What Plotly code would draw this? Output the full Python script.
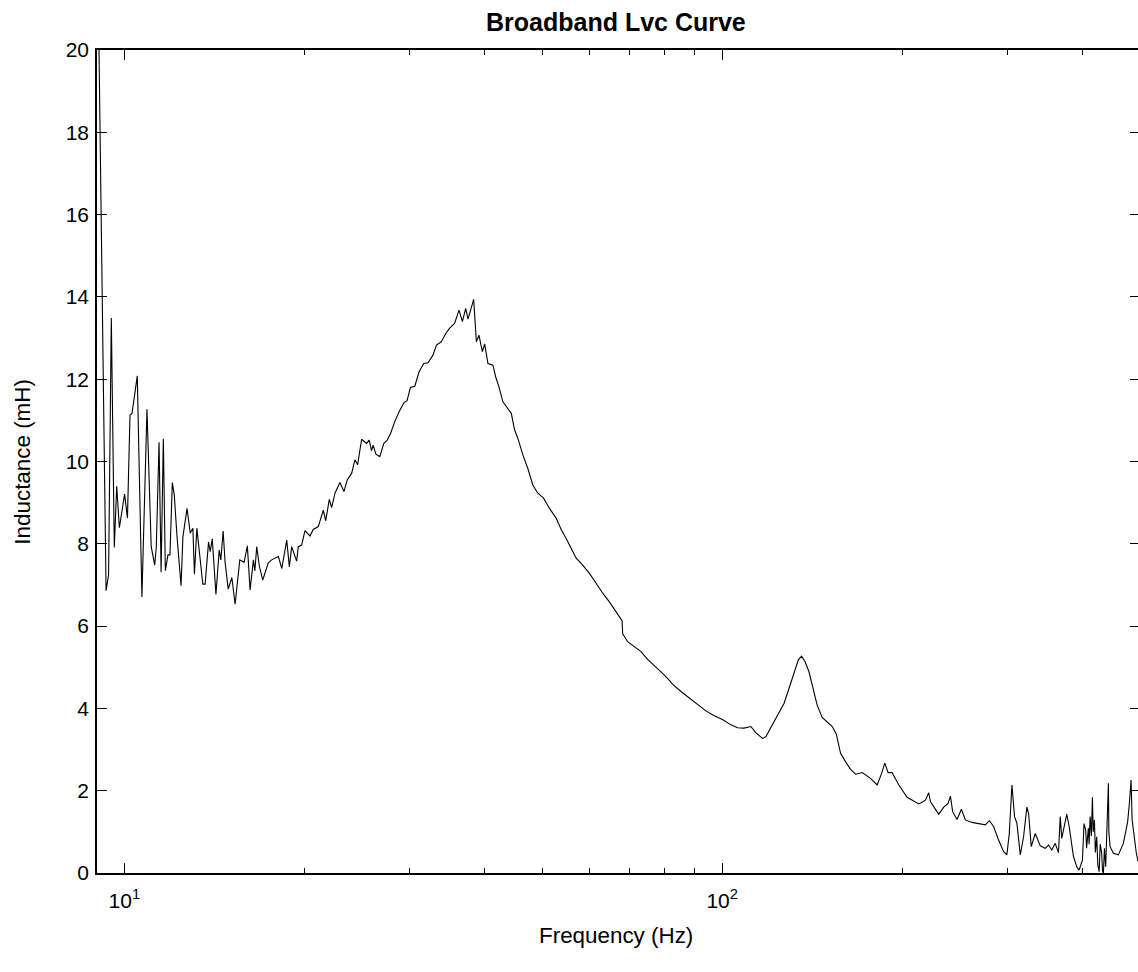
import math
import plotly.graph_objects as go

# ---- data (frequency in Hz, inductance in mH) ----
freq_low = [9.06, 9.32, 9.41, 9.51, 9.62, 9.71, 9.81, 10.01, 10.12, 10.22,
            10.30, 10.51, 10.70, 10.91, 11.09, 11.24, 11.31, 11.43, 11.52, 11.62,
            11.71, 11.83, 11.92, 12.03, 12.12, 12.25, 12.44, 12.53, 12.73, 12.89,
            13.02, 13.10, 13.22, 13.39, 13.53, 13.65, 13.83, 13.92, 14.03, 14.23,
            14.41, 14.50, 14.63, 14.74, 14.92, 15.13, 15.32, 15.60, 15.86, 16.06,
            16.23, 16.44, 16.53, 16.65, 16.82, 17.04, 17.26, 17.41, 17.64]
ind_low = [20.5, 6.86, 7.24, 13.49, 7.91, 9.40, 8.39, 9.21, 8.62, 11.13,
           11.17, 12.08, 6.71, 11.27, 7.93, 7.48, 7.93, 10.47, 7.31, 10.55,
           7.35, 7.73, 7.73, 9.49, 9.19, 8.17, 6.98, 8.17, 8.86, 8.26,
           8.38, 7.26, 8.38, 7.61, 7.02, 7.02, 8.04, 7.81, 8.12, 6.77,
           7.85, 7.61, 8.31, 7.55, 6.90, 7.18, 6.53, 7.61, 7.55, 7.95,
           6.88, 7.61, 7.34, 7.93, 7.46, 7.12, 7.34, 7.54, 7.61]

freq_rise = [18.10, 18.34, 18.69, 18.88, 19.05, 19.42, 19.54, 19.80, 20.05, 20.44,
             20.70, 21.11, 21.52, 21.72, 22.02, 22.22, 22.51, 22.94, 23.30, 23.59,
             24.00, 24.30, 24.56, 24.94, 25.42, 25.68, 25.91, 26.07, 26.35, 26.75,
             27.17, 27.52, 27.88, 28.34, 28.81, 29.37, 29.71, 30.10, 30.61, 31.12,
             31.68, 32.21, 32.84, 33.27, 33.91, 34.48, 35.01, 35.69, 36.29, 36.77,
             37.24, 37.57, 38.40]
ind_rise = [7.69, 7.40, 8.09, 7.44, 7.93, 7.58, 7.93, 7.97, 8.32, 8.19,
            8.35, 8.42, 8.82, 8.56, 9.08, 8.88, 9.23, 9.49, 9.27, 9.55,
            9.71, 10.04, 9.92, 10.54, 10.44, 10.52, 10.26, 10.40, 10.18, 10.12,
            10.44, 10.52, 10.68, 10.97, 11.21, 11.43, 11.48, 11.80, 11.83, 12.18,
            12.38, 12.40, 12.59, 12.83, 12.91, 13.11, 13.24, 13.36, 13.68, 13.40,
            13.72, 13.46, 13.94]

freq_fall = [38.80, 39.19, 39.71, 40.06, 40.57, 41.36, 41.79, 42.32, 42.98, 43.54,
             44.39, 44.95, 45.53, 46.41, 47.31, 48.23, 49.17, 50.26, 51.43, 52.77,
             53.79, 54.84, 55.90, 56.99, 58.45, 59.98, 61.54, 63.12, 64.77, 66.46,
             68.01, 68.17, 69.49, 71.30, 73.16, 75.04, 77.00, 79.01, 81.04, 82.61,
             85.32, 88.09, 90.94, 93.93, 96.97, 100.1]
ind_fall = [12.91, 13.07, 12.67, 12.86, 12.38, 12.34, 12.06, 11.82, 11.45, 11.33,
            11.17, 10.77, 10.56, 10.16, 9.83, 9.43, 9.23, 9.11, 8.86, 8.62,
            8.35, 8.13, 7.89, 7.65, 7.48, 7.28, 7.04, 6.80, 6.59, 6.35,
            6.13, 5.81, 5.62, 5.50, 5.38, 5.19, 5.05, 4.89, 4.73, 4.59,
            4.41, 4.25, 4.08, 3.94, 3.82, 3.73]

freq_mid = [103.4, 106.1, 108.8, 111.7, 113.8, 116.8, 118.3, 120.6, 123.7, 126.9,
            129.4, 131.9, 134.1, 135.8, 137.6, 139.7, 141.9, 144.2, 147.0, 149.9,
            152.8, 155.2, 157.8, 160.9, 164.0, 167.2, 171.5, 177.1, 181.7, 184.8,
            187.1, 189.5, 192.4, 197.5, 203.9, 213.3, 218.8, 221.6, 223.1, 230.3,
            234.8, 238.7, 240.9, 243.0, 247.1, 251.3, 255.2, 261.7, 270.3, 275.6,
            279.9, 284.5]
ind_mid = [3.60, 3.53, 3.52, 3.56, 3.41, 3.27, 3.31, 3.53, 3.80, 4.12,
           4.49, 4.89, 5.18, 5.27, 5.14, 4.89, 4.49, 4.08, 3.78, 3.68,
           3.56, 3.38, 2.91, 2.70, 2.52, 2.40, 2.44, 2.30, 2.14, 2.42,
           2.67, 2.44, 2.44, 2.14, 1.84, 1.68, 1.77, 1.95, 1.73, 1.43,
           1.60, 1.69, 1.87, 1.49, 1.30, 1.55, 1.29, 1.23, 1.19, 1.17,
           1.27, 1.13]

freq_high = [290.0, 295.7, 299.4, 302.2, 305.3, 308.4, 311.2, 315.3, 319.3, 323.4,
             325.5, 328.9, 334.0, 340.5, 347.1, 351.5, 356.0, 360.7, 365.3, 367.7,
             369.9, 373.8, 377.1, 380.6, 387.0, 391.9, 395.5, 400.6, 403.0, 405.7,
             407.0, 409.9, 411.0, 412.6, 414.5, 416.3, 417.5, 419.5, 421.0, 423.2,
             425.0, 427.1, 429.0, 431.4, 432.8, 434.3, 436.0, 438.1, 440.0, 442.7,
             443.5, 445.6, 451.3, 460.0, 469.0, 476.8, 480.0, 483.1, 485.0, 487.3,
             490.0, 493.0, 496.0, 500.0]
ind_high = [0.80, 0.52, 0.44, 0.96, 2.14, 1.37, 1.21, 0.44, 0.88, 1.60,
            1.45, 0.64, 0.96, 0.66, 0.60, 0.68, 0.56, 0.72, 0.49, 1.37,
            0.84, 1.13, 1.43, 1.13, 0.40, 0.15, 0.07, 0.32, 1.20, 1.04,
            0.60, 1.09, 0.70, 1.37, 0.90, 1.84, 1.00, 1.29, 0.50, 0.88,
            0.20, 0.03, 0.70, 0.48, 0.05, 0.00, 0.60, 0.15, 1.20, 2.18,
            1.00, 0.64, 0.48, 0.44, 0.72, 1.25, 1.70, 2.26, 1.30, 1.04,
            0.70, 0.48, 0.30, 0.25]

x_tick_vals = [10, 100]
x_tick_text = ["10<sup>1</sup>", "10<sup>2</sup>"]
x_minor_vals = [20, 30, 40, 50, 60, 70, 80, 90, 200, 300, 400]
y_tick_vals = [0, 2, 4, 6, 8, 10, 12, 14, 16, 18, 20]

segments = [(freq_low, ind_low), (freq_rise, ind_rise), (freq_fall, ind_fall),
            (freq_mid, ind_mid), (freq_high, ind_high)]
freq, ind = [], []
for f, v in segments:
    assert len(f) == len(v), (len(f), len(v))
    freq += f
    ind += v

FONT = "Liberation Sans, Arial, sans-serif"

fig = go.Figure()
fig.add_trace(go.Scatter(x=freq, y=ind, mode="lines",
                         line=dict(color="black", width=1.1),
                         showlegend=False, hoverinfo="skip"))

axis_common = dict(showline=True, linecolor="black", linewidth=1.5, mirror="ticks",
                   ticks="inside", tickcolor="black", tickwidth=1, ticklen=10,
                   showgrid=False, zeroline=False,
                   tickfont=dict(family=FONT, size=21, color="black"))

fig.update_xaxes(type="log", range=[math.log10(9), math.log10(500)],
                 tickmode="array", tickvals=x_tick_vals, ticktext=x_tick_text,
                 ticklabelstandoff=8,
                 minor=dict(ticks="inside", ticklen=5, tickwidth=1, tickcolor="black",
                            tickmode="array", tickvals=x_minor_vals, showgrid=False),
                 **axis_common)
fig.update_yaxes(range=[0, 20], tickmode="array", tickvals=y_tick_vals,
                 ticklabelstandoff=2, **axis_common)

# plot area in page pixels: x 97..1142 (right edge just outside the window), y 50..873
fig.update_layout(
    width=1142, height=972,
    margin=dict(l=97, r=0, t=50, b=99),
    paper_bgcolor="white", plot_bgcolor="white",
    font=dict(family=FONT, color="black"),
    annotations=[
        dict(text="<b>Broadband Lvc Curve</b>", xref="paper", yref="paper",
             x=(617 - 97) / 1045, y=1 + 28 / 823, xanchor="center", yanchor="middle",
             showarrow=False, font=dict(family=FONT, size=25, color="black")),
        dict(text="Frequency (Hz)", xref="paper", yref="paper",
             x=(617 - 97) / 1045, y=-62 / 823, xanchor="center", yanchor="middle",
             showarrow=False, font=dict(family=FONT, size=22.4, color="black")),
        dict(text="Inductance (mH)", xref="paper", yref="paper",
             x=-75 / 1045, y=0.5, xanchor="center", yanchor="middle", textangle=-90,
             showarrow=False, font=dict(family=FONT, size=22.4, color="black")),
    ],
)

fig.write_html(
    "out.html",
    config={"displayModeBar": False},
    post_script="document.body.style.margin='0';"
                "document.body.style.overflow='hidden';"
                "document.documentElement.style.overflow='hidden';",
)
